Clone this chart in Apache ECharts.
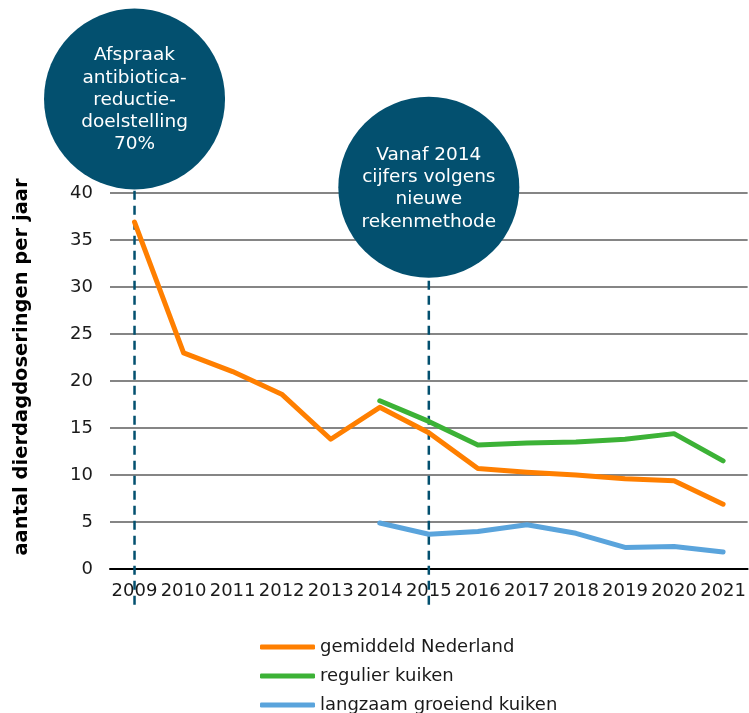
<!DOCTYPE html>
<html><head><meta charset="utf-8">
<script src="https://cdn.jsdelivr.net/npm/echarts@6/dist/echarts.min.js"></script>
<style>html,body{margin:0;padding:0;background:#fff}#c{width:749px;height:713px}</style>
</head><body><div id="c"></div>
<script>
const years = ['2009','2010','2011','2012','2013','2014','2015','2016','2017','2018','2019','2020','2021'];
const gemiddeld = [36.9, 23.0, 21.0, 18.6, 13.8, 17.2, 14.5, 10.7, 10.3, 10.0, 9.6, 9.4, 6.9];
const regulier = [null, null, null, null, null, 17.9, 15.7, 13.2, 13.4, 13.5, 13.8, 14.4, 11.5];
const langzaam = [null, null, null, null, null, 4.9, 3.7, 4.0, 4.7, 3.8, 2.3, 2.4, 1.8];
const yTicks = [0, 5, 10, 15, 20, 25, 30, 35, 40];
const notes = [
  {year: '2009', y: 50, text: 'Afspraak\nantibiotica-\nreductie-\ndoelstelling\n70%'},
  {year: '2015', y: 40.6, text: 'Vanaf 2014\ncijfers volgens\nnieuwe\nrekenmethode'}
];
const dashBottom = -3.8;
const FONT = 'DejaVu Sans';
const navy = '#03506f';
const LH = 22.3;
const chart = echarts.init(document.getElementById('c'));
function lineSeries(name, data, color) {
  return {name, type: 'line', data, showSymbol: false, symbol: 'none', connectNulls: false,
    lineStyle: {width: 5, color, cap: 'round', join: 'round'}, itemStyle: {color}, z: 3};
}
chart.setOption({
  animation: false,
  textStyle: {fontFamily: FONT},
  grid: {left: 110, right: 1, top: 193, bottom: 144},
  legend: {
    orient: 'vertical', left: 255, top: 633, height: 120, itemWidth: 55, itemHeight: 5, itemGap: 11,
    icon: 'roundRect',
    textStyle: {fontFamily: FONT, fontSize: 18, color: '#1a1a1a'},
    data: ['gemiddeld Nederland', 'regulier kuiken', 'langzaam groeiend kuiken']
  },
  xAxis: {
    type: 'category', data: years, boundaryGap: true,
    axisLine: {lineStyle: {color: '#000', width: 2}},
    axisTick: {show: false},
    axisLabel: {interval: 0, margin: 13, fontFamily: FONT, fontSize: 18, color: '#1a1a1a'}
  },
  yAxis: {
    type: 'value', min: yTicks[0], max: yTicks[yTicks.length-1], interval: 5,
    name: 'aantal dierdagdoseringen per jaar', nameLocation: 'middle', nameGap: 78,
    nameTextStyle: {fontFamily: FONT, fontSize: 19.5, fontWeight: 'bold', color: '#000', padding: [0,0,0,28]},
    axisLine: {show: false}, axisTick: {show: false},
    axisLabel: {margin: 17, fontFamily: FONT, fontSize: 18, color: '#1a1a1a'},
    splitLine: {lineStyle: {color: '#858585', width: 2}}
  },
  series: [
    lineSeries('gemiddeld Nederland', gemiddeld, '#ff7f00'),
    lineSeries('regulier kuiken', regulier, '#3cb236'),
    lineSeries('langzaam groeiend kuiken', langzaam, '#5aa4dc')
  ]
});
const finder = {xAxisIndex: 0, yAxisIndex: 0};
const elements = [];
const titles = [];
notes.forEach(n => {
  const c = chart.convertToPixel(finder, [n.year, n.y]);
  const b = chart.convertToPixel(finder, [n.year, dashBottom]);
  elements.push({
    type: 'line', z: 1, silent: true,
    shape: {x1: b[0], y1: b[1], x2: c[0], y2: c[1]},
    style: {stroke: navy, lineWidth: 2.5, lineDash: [9, 6]}
  });
  elements.push({
    type: 'circle', z: 60, silent: true,
    shape: {cx: c[0], cy: c[1], r: 90.5},
    style: {fill: navy}
  });
  const lines = n.text.split('\n').length;
  titles.push({
    text: n.text, padding: 0, z: 80,
    left: c[0], top: c[1] - lines * LH / 2 + 1,
    textAlign: 'center', textVerticalAlign: 'top',
    textStyle: {color: '#fff', fontFamily: FONT, fontSize: 18.5, fontWeight: 'normal', lineHeight: LH}
  });
});
chart.setOption({graphic: {elements}, title: titles});
</script></body></html>
